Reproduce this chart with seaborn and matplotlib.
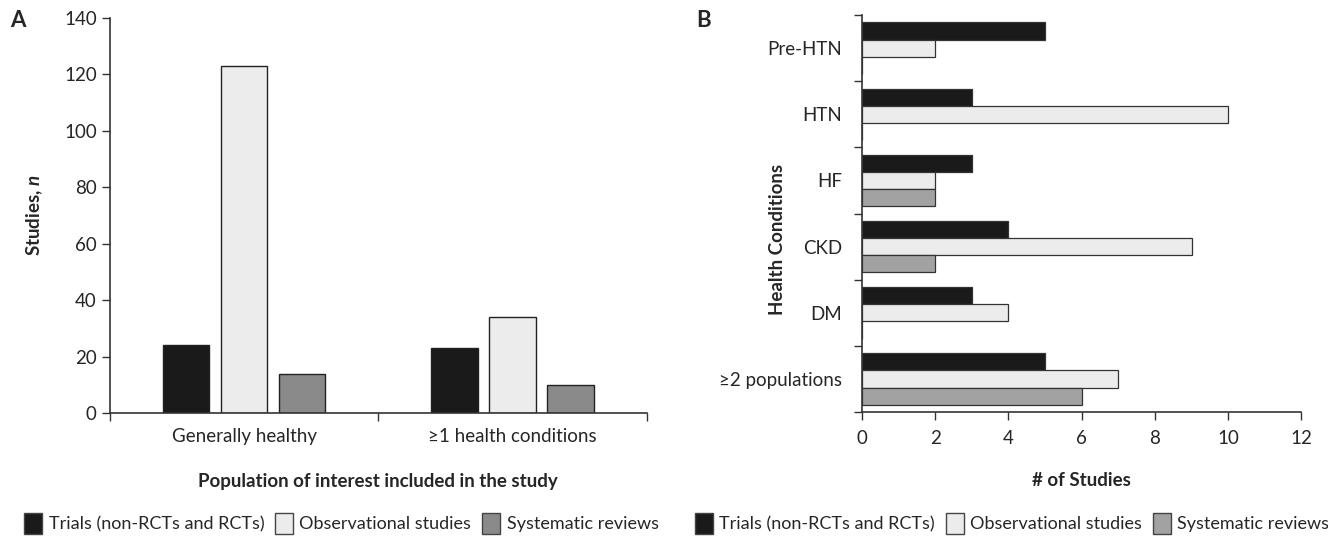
import matplotlib
matplotlib.use("Agg")
import matplotlib.pyplot as plt
import seaborn as sns
import pandas as pd
from matplotlib.patches import Patch
from matplotlib.ticker import FixedLocator

sns.set_theme(style="white")
plt.rcParams['font.family'] = ['Lato', 'DejaVu Sans']
plt.rcParams['mathtext.fontset'] = 'custom'
plt.rcParams['mathtext.bfit'] = 'Lato:bold:italic'

# ---- data ----
study_types = ["Trials (non-RCTs and RCTs)", "Observational studies", "Systematic reviews"]
pop_categories = ["Generally healthy", "\u22651 health conditions"]
trials_a = [24, 23]
observational_a = [123, 34]
reviews_a = [14, 10]

conditions = ["Pre-HTN", "HTN", "HF", "CKD", "DM", "\u22652 populations"]
trials_b = [5, 3, 3, 4, 3, 5]
observational_b = [2, 10, 2, 9, 4, 7]
reviews_b = [0, 0, 2, 2, 0, 6]

y_ticks_a = [0, 20, 40, 60, 80, 100, 120, 140]
x_ticks_b = [0, 2, 4, 6, 8, 10, 12]

colors_a = ["#1a1a1a", "#ececec", "#8a8a8a"]
colors_b = ["#1a1a1a", "#ececec", "#a2a2a2"]

df_a = pd.DataFrame({
    "pop": pop_categories * 3,
    "type": [study_types[0]] * 2 + [study_types[1]] * 2 + [study_types[2]] * 2,
    "n": trials_a + observational_a + reviews_a,
})
df_b = pd.DataFrame({
    "cond": conditions * 3,
    "type": [study_types[0]] * 6 + [study_types[1]] * 6 + [study_types[2]] * 6,
    "n": trials_b + observational_b + reviews_b,
})

fig = plt.figure(figsize=(13.28, 5.38), dpi=100)
axA = fig.add_axes([0.0828, 0.2323, 0.4042, 0.7342])
axB = fig.add_axes([0.649, 0.234, 0.331, 0.738])

spine_col = "#333333"
fs = 13.5
lfs = 13

# Panel A
sns.barplot(data=df_a, x="pop", y="n", hue="type", order=pop_categories,
            hue_order=study_types, palette=colors_a, width=0.648, gap=0.2,
            edgecolor="#222222", linewidth=1.0, ax=axA, legend=False)
axA.set_ylim(0, 140)
axA.set_xlim(-0.5, 1.5)
axA.set_yticks(y_ticks_a)
axA.set_yticklabels([str(v) for v in y_ticks_a], fontsize=fs)
axA.xaxis.set_major_locator(FixedLocator([0, 1]))
axA.set_xticklabels(pop_categories, fontsize=fs)
axA.xaxis.set_minor_locator(FixedLocator([-0.5, 0.5, 1.5]))
axA.tick_params(axis="x", which="major", length=0, pad=11)
axA.tick_params(axis="x", which="minor", length=6, width=1, color=spine_col, direction="out", bottom=True)
axA.tick_params(axis="y", which="major", length=6, width=1, color=spine_col, direction="out", left=True)
axA.set_xlabel("Population of interest included in the study", fontsize=fs, fontweight="bold", labelpad=20)
axA.set_ylabel(r"Studies, $\mathbfit{n}$", fontsize=fs, fontweight="bold", labelpad=14)
for s in ["top", "right"]:
    axA.spines[s].set_visible(False)
for s in ["left", "bottom"]:
    axA.spines[s].set_color(spine_col)
    axA.spines[s].set_linewidth(1.2)

# Panel B
sns.barplot(data=df_b, y="cond", x="n", hue="type", order=conditions,
            hue_order=study_types, palette=colors_b, width=0.78, orient="h",
            edgecolor="#333333", linewidth=0.9, ax=axB, legend=False)
axB.set_xlim(0, 12)
axB.set_ylim(5.5, -0.5)
axB.set_xticks(x_ticks_b)
axB.set_xticklabels([str(v) for v in x_ticks_b], fontsize=fs)
axB.yaxis.set_major_locator(FixedLocator(list(range(len(conditions)))))
axB.set_yticklabels(conditions, fontsize=fs)
axB.yaxis.set_minor_locator(FixedLocator([i - 0.5 for i in range(len(conditions) + 1)]))
axB.tick_params(axis="y", which="major", length=0, pad=14)
axB.tick_params(axis="y", which="minor", length=6, width=1, color=spine_col, direction="out", left=True)
axB.tick_params(axis="x", which="major", length=6, width=1, color=spine_col, direction="out", bottom=True, pad=7)
axB.set_xlabel("# of Studies", fontsize=fs, fontweight="bold", labelpad=18)
axB.set_ylabel("Health Conditions", fontsize=fs, fontweight="bold")
axB.yaxis.set_label_coords(-0.172, 0.436)
for s in ["top", "right"]:
    axB.spines[s].set_visible(False)
for s in ["left", "bottom"]:
    axB.spines[s].set_color(spine_col)
    axB.spines[s].set_linewidth(1.2)

# Legends
def make_handles(cols):
    return [Patch(facecolor=c, edgecolor="#444444", linewidth=1.0) for c in cols]

legA = fig.legend(make_handles(colors_a), study_types, loc="lower left",
                  bbox_to_anchor=(0.006, -0.022), ncol=3, frameon=False, fontsize=lfs,
                  handlelength=1.0, handleheight=1.4, handletextpad=0.35, columnspacing=0.6)
legB = fig.legend(make_handles(colors_b), study_types, loc="lower left",
                  bbox_to_anchor=(0.511, -0.022), ncol=3, frameon=False, fontsize=lfs,
                  handlelength=1.0, handleheight=1.4, handletextpad=0.35, columnspacing=0.6)

fig.text(0.008, 0.962, "A", fontsize=16, fontweight="bold", va="center", ha="left")
fig.text(0.524, 0.962, "B", fontsize=16, fontweight="bold", va="center", ha="left")

fig.savefig("out.png", dpi=100)
